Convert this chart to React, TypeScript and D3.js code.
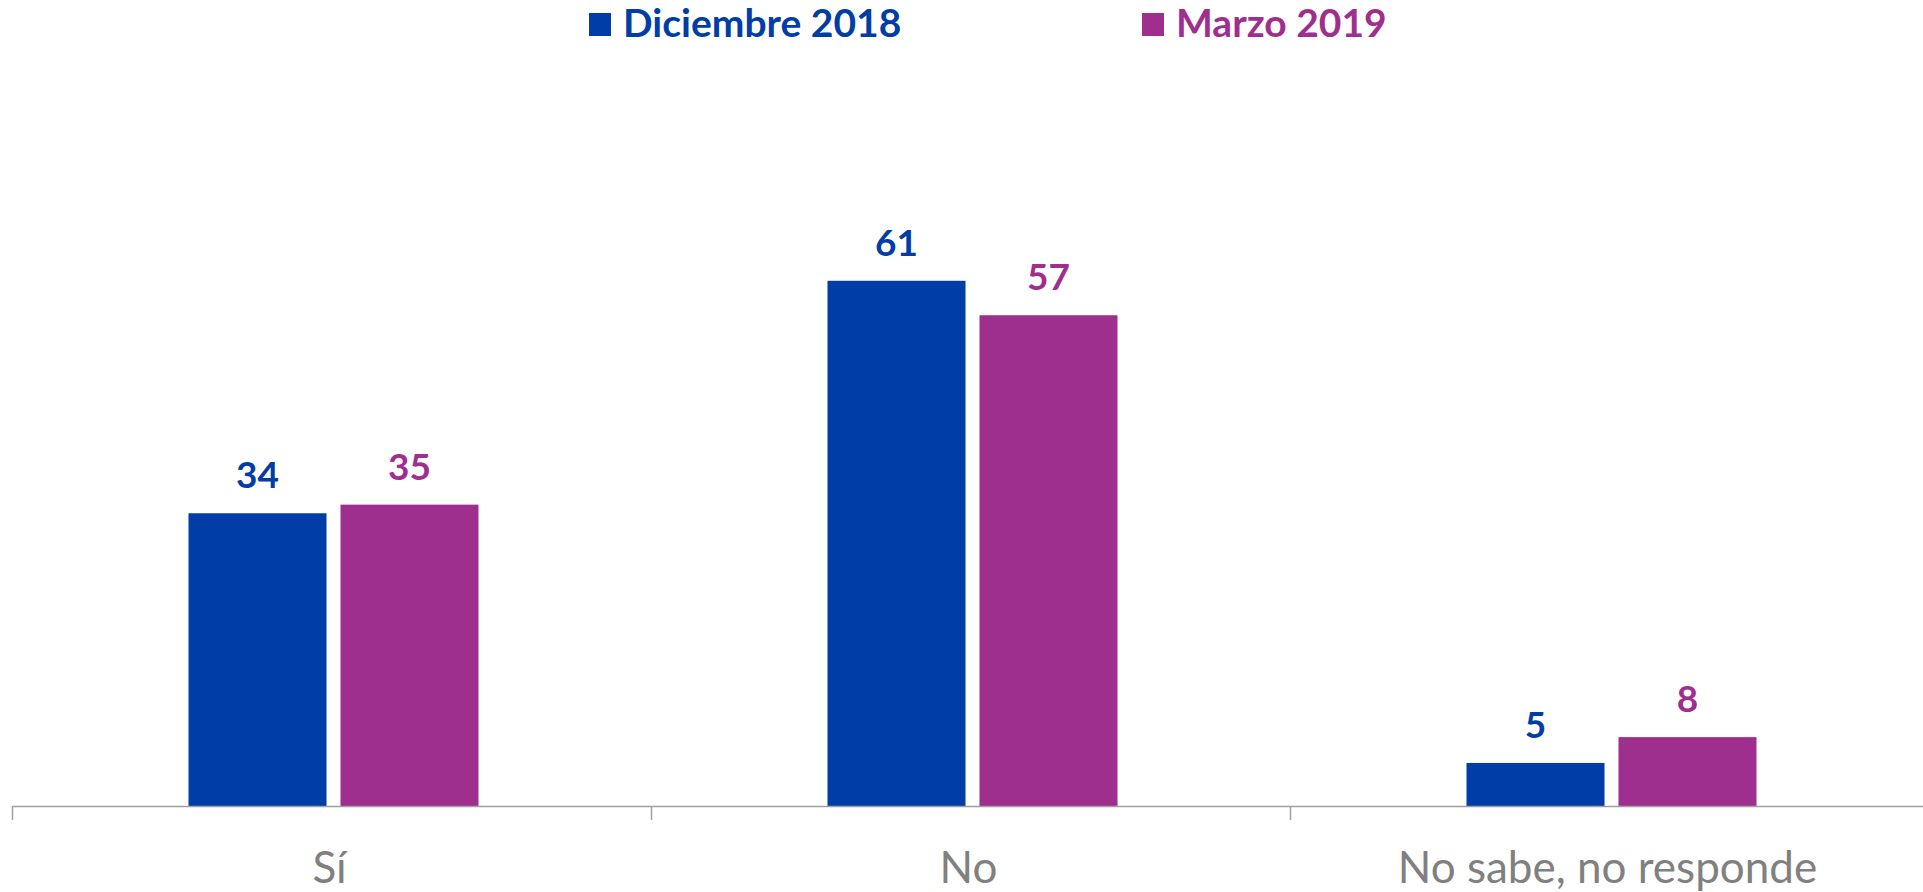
import React from 'react';
import * as d3 from 'd3';

const categories = ['Sí', 'No', 'No sabe, no responde'];
const seriesNames = ['Diciembre 2018', 'Marzo 2019'];
const dic2018 = [34, 61, 5];
const mar2019 = [35, 57, 8];
const seriesColors = ['#003da6', '#9e2f8e'];

const W = 1923;
const H = 892;
const baseY = 806;
const axisLeft = 12;

const App: React.FC = () => {
  const series = [dic2018, mar2019];

  // the last band runs a little past the right edge, like the original
  const x0 = d3.scaleBand<string>().domain(categories).range([axisLeft, axisLeft + 639 * 3]).padding(0);
  const group = 290;
  const x1 = d3.scaleBand<string>().domain(seriesNames).range([0, group]).paddingInner(0.092);
  const y = d3.scaleLinear().domain([0, 100]).range([baseY, baseY - 861]);

  const font = 'Lato, "Open Sans", sans-serif';
  const tickXs = categories.map(c => x0(c) || 0);

  return (
    <svg width={W} height={H} style={{ position: 'absolute', left: 0, top: 0 }}>
      <rect width={W} height={H} fill="#fff" />
      {/* legend */}
      {seriesNames.map((s, i) => {
        const lx = i === 0 ? 589 : 1142;
        return (
          <g key={s}>
            <rect x={lx} y={13} width={22} height={23} fill={seriesColors[i]} />
            <text x={lx + 34} y={37} fontFamily={font} fontWeight={700} fontSize={39} fill={seriesColors[i]}>
              {s}
            </text>
          </g>
        );
      })}
      {/* bars */}
      {categories.map((c, ci) => {
        const cx = (x0(c) || 0) + x0.bandwidth() / 2;
        const gx = cx - group / 2 + 2;
        return (
          <g key={c}>
            {series.map((vals, si) => {
              const bx = gx + (x1(seriesNames[si]) || 0);
              const v = vals[ci];
              return (
                <g key={si}>
                  <rect x={bx} y={y(v)} width={x1.bandwidth()} height={baseY - y(v)} fill={seriesColors[si]} />
                  <text x={bx + x1.bandwidth() / 2} y={y(v) - 25} textAnchor="middle" fontFamily={font}
                    fontWeight={700} fontSize={37} fill={seriesColors[si]}>
                    {v}
                  </text>
                </g>
              );
            })}
            <text x={cx - 2} y={883} textAnchor="middle" fontFamily={font} fontSize={44} fill="#808080">
              {c}
            </text>
          </g>
        );
      })}
      {/* axis */}
      <line x1={axisLeft} x2={W} y1={baseY + 0.5} y2={baseY + 0.5} stroke="#a0a0a0" strokeWidth={1.5} />
      {tickXs.map((tx, i) => (
        <line key={i} x1={tx + 0.5} x2={tx + 0.5} y1={baseY} y2={baseY + 14} stroke="#a0a0a0" strokeWidth={1.5} />
      ))}
    </svg>
  );
};

export default App;
